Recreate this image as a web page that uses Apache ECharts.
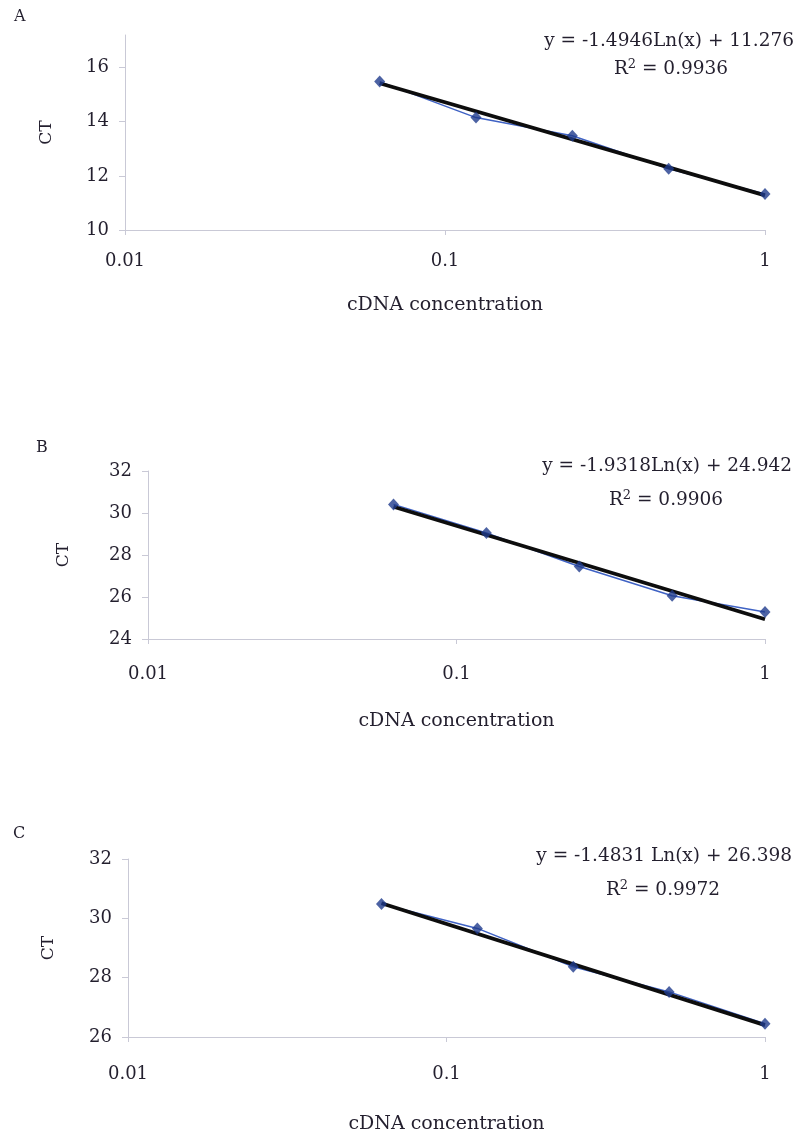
<!DOCTYPE html>
<html>
<head>
<meta charset="utf-8">
<script src="https://cdn.jsdelivr.net/npm/echarts@6/dist/echarts.min.js"></script>
<style>
html,body{margin:0;padding:0;background:#fff;}
#chart{width:802px;height:1139px;}
</style>
</head>
<body>
<div id="chart"></div>
<script>
// ---- data ----
var concentrations = [0.0625, 0.125, 0.25, 0.5, 1];
var ctA = [15.48, 14.15, 13.48, 12.26, 11.33];
var ctB = [30.41, 29.05, 27.45, 26.06, 25.29];
var ctC = [30.48, 29.66, 28.37, 27.52, 26.45];
var trendX = [0.0625, 1];
var trendA = [15.42, 11.28];
var trendB = [30.30, 24.94];
var trendC = [30.51, 26.40];
var panelLabels = ['A', 'B', 'C'];
var equations = ['y = -1.4946Ln(x) + 11.276', 'y = -1.9318Ln(x) + 24.942', 'y = -1.4831 Ln(x) + 26.398'];
var r2Values = ['0.9936', '0.9906', '0.9972'];
var xTickLabels = ['0.01', '0.1', '1'];
var xAxisTitle = 'cDNA concentration';
var yAxisTitle = 'CT';

// ---- layout / style ----
var FONT = 'DejaVu Serif';
var axisColor = '#c9c9d6';
var textColor = '#231f2e';
var panels = [
  {ct: ctA, trend: trendA, grid: {left: 125, right: 37, top: 35, bottom: 909}, ymin: 10, ymax: 17.2, xMargin: 22, nameGapX: 66, nameGapY: 70,
   lab: [20, 18], eq: [794, 41], r2: [671, 69]},
  {ct: ctB, trend: trendB, grid: {left: 148, right: 37, top: 471, bottom: 500}, ymin: 24, ymax: 32, xMargin: 26, nameGapX: 73, nameGapY: 76,
   lab: [42, 449], eq: [792, 466], r2: [666, 500]},
  {ct: ctC, trend: trendC, grid: {left: 128, right: 37, top: 859, bottom: 102}, ymin: 26, ymax: 32, xMargin: 28, nameGapX: 78, nameGapY: 71,
   lab: [19, 835], eq: [792, 856], r2: [663, 890]}
];

function pairs(xs, ys) { return xs.map(function (x, i) { return [x, ys[i]]; }); }

var grids = [], xAxes = [], yAxes = [], series = [], graphics = [];
panels.forEach(function (p, i) {
  grids.push(p.grid);
  xAxes.push({
    type: 'log', logBase: 10, min: 0.01, max: 1, gridIndex: i,
    name: xAxisTitle, nameLocation: 'middle', nameGap: p.nameGapX,
    nameTextStyle: {fontFamily: FONT, fontSize: 19, color: textColor},
    axisLine: {show: true, onZero: false, lineStyle: {color: axisColor, width: 1}},
    axisTick: {show: true, length: 5, lineStyle: {color: axisColor}},
    minorTick: {show: false},
    splitLine: {show: false},
    axisLabel: {margin: p.xMargin, fontFamily: FONT, fontSize: 18, color: textColor,
      formatter: function (v) { var s = String(+v.toPrecision(3)); return xTickLabels.indexOf(s) >= 0 ? s : ''; }}
  });
  yAxes.push({
    type: 'value', min: p.ymin, max: p.ymax, interval: 2, gridIndex: i,
    name: yAxisTitle, nameLocation: 'middle', nameGap: p.nameGapY, nameRotate: 90,
    nameTextStyle: {fontFamily: FONT, fontSize: 17, color: textColor},
    axisLine: {show: true, onZero: false, lineStyle: {color: axisColor, width: 1}},
    axisTick: {show: true, length: 6, lineStyle: {color: axisColor}},
    splitLine: {show: false},
    axisLabel: {margin: 16, fontFamily: FONT, fontSize: 18, color: textColor, showMaxLabel: p.ymax % 2 === 0,
      formatter: function (v) { return v % 2 === 0 ? String(v) : ''; }}
  });
  var data = pairs(concentrations, p.ct);
  series.push({
    type: 'line', xAxisIndex: i, yAxisIndex: i, data: data, showSymbol: false, symbol: 'none',
    lineStyle: {color: '#3f62c4', width: 1.5}, z: 2, silent: true, animation: false
  });
  series.push({
    type: 'line', xAxisIndex: i, yAxisIndex: i, data: pairs(trendX, p.trend), symbol: 'none',
    lineStyle: {color: '#0d0d0d', width: 3.8}, z: 3, silent: true, animation: false
  });
  series.push({
    type: 'scatter', xAxisIndex: i, yAxisIndex: i, data: data, symbol: 'diamond', symbolSize: [11, 12],
    itemStyle: {color: '#1f3b8c'}, z: 4, silent: true, animation: false
  });
  graphics.push({type: 'text', left: p.lab[0] - 6, top: p.lab[1] - 9,
    style: {text: panelLabels[i], font: '16px "' + FONT + '"', fill: textColor}});
  graphics.push({type: 'text', x: p.eq[0], y: p.eq[1],
    style: {text: equations[i], font: '18.5px "' + FONT + '"', fill: textColor, align: 'right', verticalAlign: 'middle'}});
  graphics.push({type: 'text', x: p.r2[0], y: p.r2[1],
    style: {text: 'R{sup|2} = ' + r2Values[i], font: '18.5px "' + FONT + '"', fill: textColor, align: 'center', verticalAlign: 'middle',
      rich: {sup: {fontFamily: FONT, fontSize: 13, verticalAlign: 'top', padding: [0, 0, 8, 0], fill: textColor}}}});
});

var chart = echarts.init(document.getElementById('chart'), null, {renderer: 'canvas'});
chart.setOption({
  backgroundColor: '#ffffff',
  animation: false,
  grid: grids,
  xAxis: xAxes,
  yAxis: yAxes,
  series: series,
  graphic: graphics
});
</script>
</body>
</html>
